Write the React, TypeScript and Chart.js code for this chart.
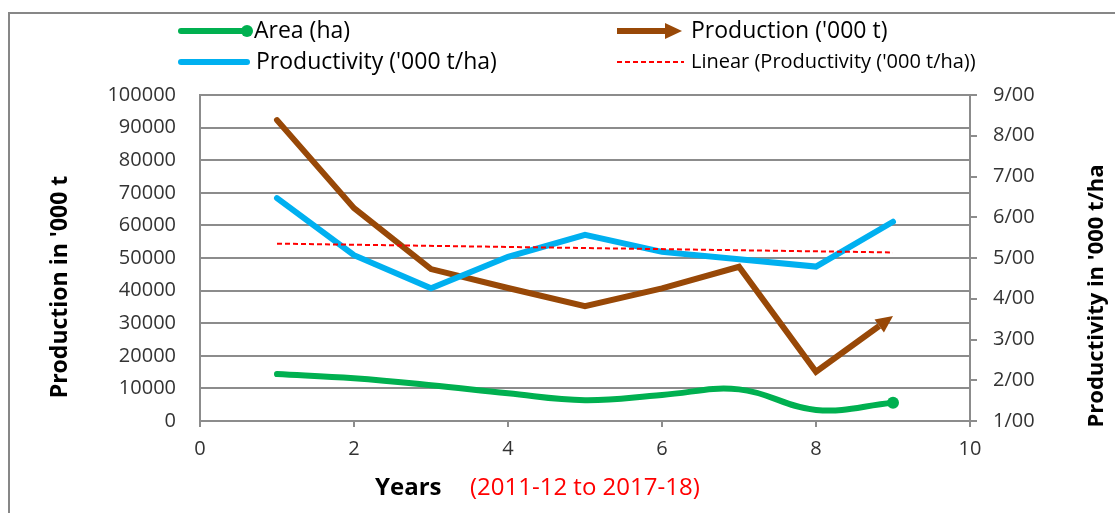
import React, { useEffect, useRef } from 'react';
import { Chart, registerables } from 'chart.js';

Chart.register(...registerables);

// ---- data ----
const years = [1, 2, 3, 4, 5, 6, 7, 8, 9];
const areaHa = [14400, 13100, 11000, 8500, 6400, 8000, 9700, 3400, 5600];
const productionKt = [92300, 65300, 46600, 40800, 35200, 40700, 47300, 15100, 32200];
const productivity = [6.47, 5.07, 4.26, 5.03, 5.57, 5.15, 4.97, 4.79, 5.89];

const legendLabels = [
  'Area (ha)',
  "Production ('000 t)",
  "Productivity ('000 t/ha)",
  "Linear (Productivity ('000 t/ha))",
];
const leftTitle = "Production in '000 t";
const rightTitle = "Productivity in '000 t/ha";
const xTitle = 'Years';
const xSubtitle = '(2011-12 to 2017-18)';

const GREEN = '#00B050';
const BROWN = '#984807';
const BLUE = '#00B0F0';
const RED = '#FF0000';
const GRID = '#8c8c8c';
const TEXT = '#333333';
const FONT = "'Open Sans', 'Noto Sans', sans-serif";

// least-squares trend for productivity (built from the data)
function trendLine(xs: number[], ys: number[]) {
  const n = xs.length;
  const mx = xs.reduce((a, b) => a + b, 0) / n;
  const my = ys.reduce((a, b) => a + b, 0) / n;
  let sxy = 0;
  let sxx = 0;
  for (let i = 0; i < n; i++) {
    sxy += (xs[i] - mx) * (ys[i] - my);
    sxx += (xs[i] - mx) * (xs[i] - mx);
  }
  const slope = sxy / sxx;
  const icpt = my - slope * mx;
  const x0 = xs[0];
  const x1 = xs[n - 1];
  return [
    { x: x0, y: icpt + slope * x0 },
    { x: x1, y: icpt + slope * x1 },
  ];
}

function arrowGeom(px: number, py: number, tx: number, ty: number, L: number, W: number) {
  const dx = tx - px;
  const dy = ty - py;
  const d = Math.hypot(dx, dy) || 1;
  const ux = dx / d;
  const uy = dy / d;
  const nx = -uy;
  const ny = ux;
  const bx = tx - ux * L;
  const by = ty - uy * L;
  return { ux, uy, nx, ny, bx, by, tx, ty, W };
}

function drawArrowHead(ctx: CanvasRenderingContext2D, g: any, color: string) {
  ctx.save();
  ctx.fillStyle = color;
  ctx.beginPath();
  ctx.moveTo(g.tx, g.ty);
  ctx.lineTo(g.bx + g.nx * g.W, g.by + g.ny * g.W);
  ctx.lineTo(g.bx - g.nx * g.W, g.by - g.ny * g.W);
  ctx.closePath();
  ctx.fill();
  ctx.restore();
}

const PROD_INDEX = 1;

const arrowPlugin = {
  id: 'arrowEnd',
  beforeDatasetDraw(chart: any, args: any) {
    if (args.index !== PROD_INDEX) return;
    const pts = args.meta.data;
    const a = pts[pts.length - 2];
    const b = pts[pts.length - 1];
    const g = arrowGeom(a.x, a.y, b.x, b.y, 17, 8);
    const ctx = chart.ctx;
    ctx.save();
    const big = 3000;
    ctx.beginPath();
    ctx.rect(0, 0, chart.width, chart.height);
    ctx.moveTo(g.bx + g.nx * big, g.by + g.ny * big);
    ctx.lineTo(g.bx + g.nx * big + g.ux * big, g.by + g.ny * big + g.uy * big);
    ctx.lineTo(g.bx - g.nx * big + g.ux * big, g.by - g.ny * big + g.uy * big);
    ctx.lineTo(g.bx - g.nx * big, g.by - g.ny * big);
    ctx.closePath();
    ctx.clip('evenodd');
  },
  afterDatasetDraw(chart: any, args: any) {
    if (args.index !== PROD_INDEX) return;
    const ctx = chart.ctx;
    ctx.restore();
    const pts = args.meta.data;
    const a = pts[pts.length - 2];
    const b = pts[pts.length - 1];
    const g = arrowGeom(a.x, a.y, b.x, b.y, 17, 8);
    drawArrowHead(ctx, g, BROWN);
  },
};

const decorPlugin = {
  id: 'decor',
  beforeDraw(chart: any) {
    const ctx = chart.ctx;
    ctx.save();
    ctx.fillStyle = '#ffffff';
    ctx.fillRect(0, 0, chart.width, chart.height);
    ctx.strokeStyle = '#878787';
    ctx.lineWidth = 2;
    ctx.beginPath();
    ctx.moveTo(9, chart.height);
    ctx.lineTo(9, 13);
    ctx.lineTo(chart.width, 13);
    ctx.stroke();
    ctx.restore();
  },
  afterDraw(chart: any) {
    const ctx = chart.ctx;
    ctx.save();
    // axis titles
    ctx.fillStyle = '#000000';
    ctx.textBaseline = 'middle';
    ctx.textAlign = 'center';
    ctx.font = `bold 23px ${FONT}`;
    ctx.save();
    ctx.translate(60, 287);
    ctx.rotate(-Math.PI / 2);
    ctx.fillText(leftTitle, 0, 0);
    ctx.restore();
    ctx.save();
    ctx.translate(1097, 296);
    ctx.rotate(-Math.PI / 2);
    ctx.font = `bold 22px ${FONT}`;
    ctx.fillText(rightTitle, 0, 0);
    ctx.restore();

    ctx.textAlign = 'left';
    ctx.font = `bold 24px ${FONT}`;
    ctx.fillText(xTitle, 375, 488);
    ctx.fillStyle = RED;
    ctx.font = `24px ${FONT}`;
    ctx.fillText(xSubtitle, 470, 488);

    // legend
    const r1 = 31;
    const r2 = 62;
    ctx.lineCap = 'round';
    // area
    ctx.strokeStyle = GREEN;
    ctx.lineWidth = 6;
    ctx.beginPath();
    ctx.moveTo(181, r1);
    ctx.lineTo(246, r1);
    ctx.stroke();
    ctx.fillStyle = GREEN;
    ctx.beginPath();
    ctx.arc(247, r1, 6, 0, Math.PI * 2);
    ctx.fill();
    // production arrow
    ctx.strokeStyle = BROWN;
    ctx.lineCap = 'butt';
    ctx.beginPath();
    ctx.moveTo(617, r1);
    ctx.lineTo(665, r1);
    ctx.stroke();
    drawArrowHead(ctx, arrowGeom(617, r1, 682, r1, 17, 8), BROWN);
    // productivity
    ctx.lineCap = 'round';
    ctx.strokeStyle = BLUE;
    ctx.beginPath();
    ctx.moveTo(181, r2);
    ctx.lineTo(247, r2);
    ctx.stroke();
    // linear
    ctx.lineCap = 'butt';
    ctx.strokeStyle = RED;
    ctx.lineWidth = 2;
    ctx.setLineDash([5, 3]);
    ctx.beginPath();
    ctx.moveTo(617, r2);
    ctx.lineTo(684, r2);
    ctx.stroke();
    ctx.setLineDash([]);

    ctx.fillStyle = '#000000';
    ctx.textAlign = 'left';
    ctx.font = `23px ${FONT}`;
    ctx.fillText(legendLabels[0], 254, r1);
    ctx.fillText(legendLabels[1], 691, r1);
    ctx.fillText(legendLabels[2], 256, r2);
    ctx.font = `20px ${FONT}`;
    ctx.fillText(legendLabels[3], 691, r2);
    ctx.restore();
  },
};

export default function App() {
  const ref = useRef<HTMLCanvasElement | null>(null);

  useEffect(() => {
    if (!ref.current) return;
    const trend = trendLine(years, productivity);
    const chart = new Chart(ref.current, {
      type: 'line',
      data: {
        datasets: [
          {
            label: legendLabels[0],
            data: years.map((x, i) => ({ x, y: areaHa[i] })),
            yAxisID: 'y',
            borderColor: GREEN,
            backgroundColor: GREEN,
            borderWidth: 6,
            tension: 0.4,
            borderCapStyle: 'round',
            pointRadius: years.map((_, i) => (i === years.length - 1 ? 6 : 0)),
            pointBorderWidth: 0,
            order: 3,
          },
          {
            label: legendLabels[1],
            data: years.map((x, i) => ({ x, y: productionKt[i] })),
            yAxisID: 'y',
            borderColor: BROWN,
            backgroundColor: BROWN,
            borderWidth: 6,
            tension: 0,
            borderCapStyle: 'round',
            pointRadius: 0,
            order: 2,
          },
          {
            label: legendLabels[2],
            data: years.map((x, i) => ({ x, y: productivity[i] })),
            yAxisID: 'y1',
            borderColor: BLUE,
            backgroundColor: BLUE,
            borderWidth: 6,
            tension: 0,
            borderCapStyle: 'round',
            pointRadius: 0,
            order: 1,
          },
          {
            label: legendLabels[3],
            data: trend,
            yAxisID: 'y1',
            borderColor: RED,
            backgroundColor: RED,
            borderWidth: 2,
            borderDash: [5, 3],
            tension: 0,
            pointRadius: 0,
            order: 0,
          },
        ],
      },
      options: {
        animation: false,
        responsive: true,
        maintainAspectRatio: false,
        layout: { padding: { top: 95, left: 0, right: 0, bottom: 0 } },
        plugins: {
          legend: { display: false },
          tooltip: { enabled: false },
        },
        scales: {
          x: {
            type: 'linear',
            min: 0,
            max: 10,
            ticks: {
              stepSize: 2,
              color: TEXT,
              font: { family: FONT, size: 20 },
              padding: 10,
            },
            grid: {
              drawOnChartArea: false,
              drawTicks: true,
              tickLength: 6,
              color: GRID,
              lineWidth: 2,
            },
            border: { display: true, color: GRID, width: 2 },
            afterFit: (s: any) => {
              s.height = 92;
            },
          },
          y: {
            position: 'left',
            min: 0,
            max: 100000,
            ticks: {
              stepSize: 10000,
              color: TEXT,
              font: { family: FONT, size: 20 },
              padding: 24,
              callback: (v: any) => String(v),
            },
            grid: {
              drawTicks: false,
              color: GRID,
              lineWidth: 2,
            },
            border: { display: true, color: GRID, width: 2 },
            afterFit: (s: any) => {
              s.width = 200;
            },
          },
          y1: {
            position: 'right',
            min: 1,
            max: 9,
            ticks: {
              stepSize: 1,
              color: TEXT,
              font: { family: FONT, size: 20 },
              padding: 16,
              callback: (v: any) => `${v}/00`,
            },
            grid: {
              drawOnChartArea: false,
              drawTicks: true,
              tickLength: 7,
              color: GRID,
              lineWidth: 2,
            },
            border: { display: true, color: GRID, width: 2 },
            afterFit: (s: any) => {
              s.width = 145;
            },
          },
        },
      },
      plugins: [decorPlugin, arrowPlugin],
    });
    return () => chart.destroy();
  }, []);

  return (
    <div style={{ position: 'absolute', left: 0, top: 0, width: 1115, height: 513 }}>
      <canvas ref={ref} />
    </div>
  );
}
